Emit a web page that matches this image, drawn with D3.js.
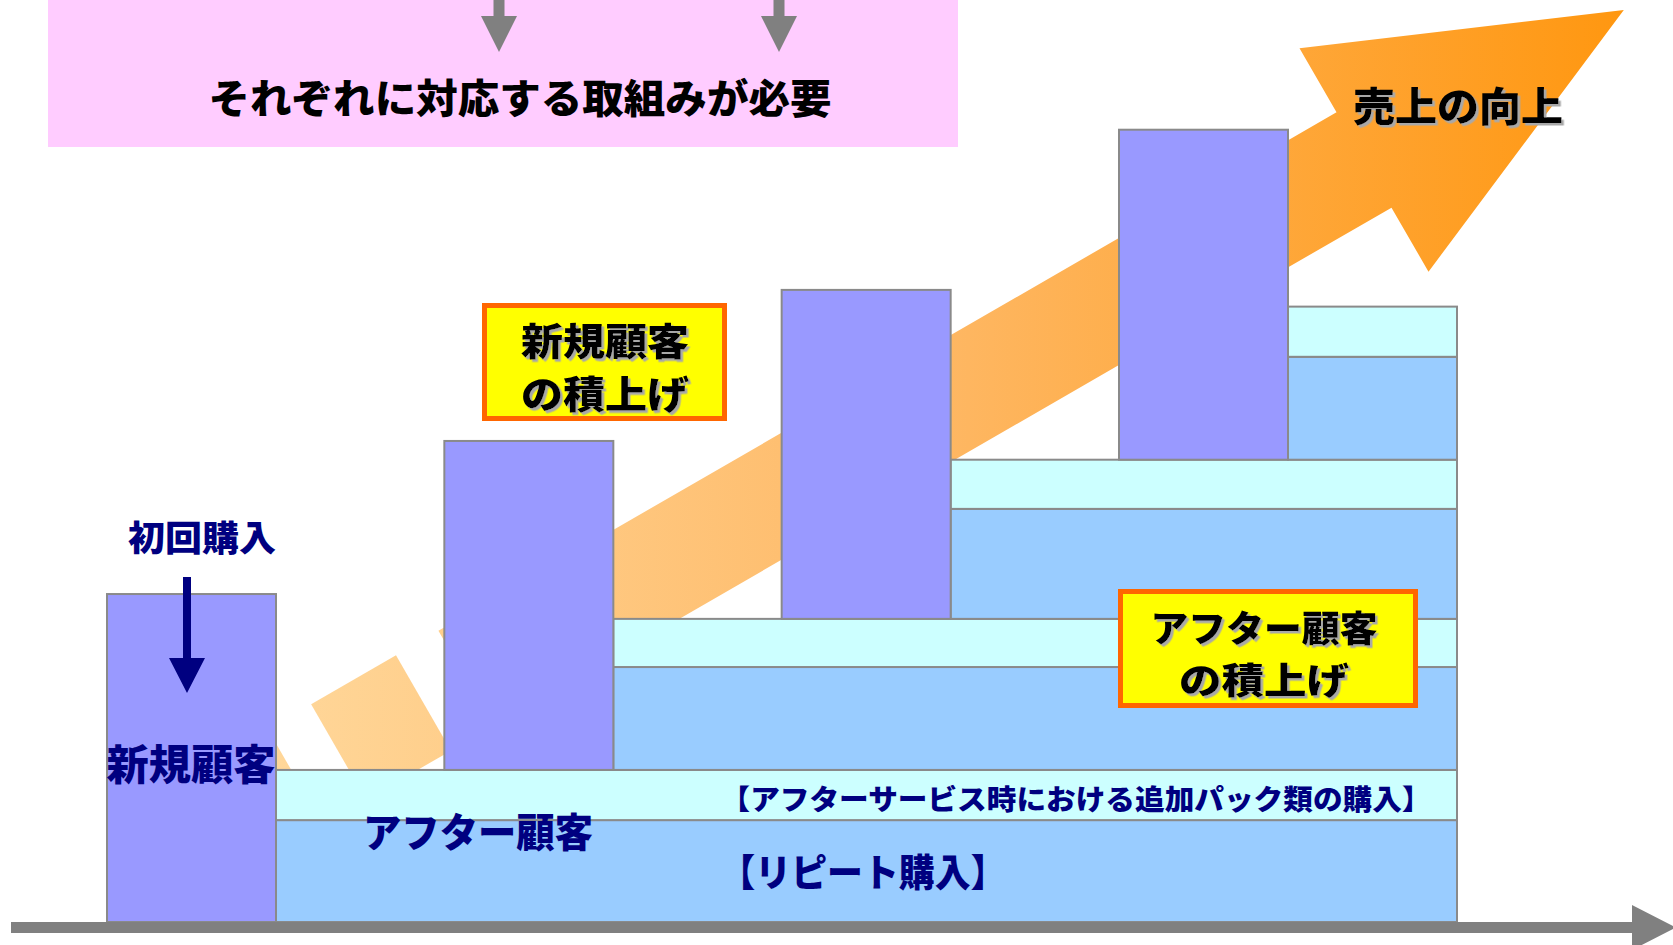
<!DOCTYPE html>
<html lang="ja">
<head>
<meta charset="utf-8">
<title>売上の向上</title>
<script src="https://cdn.jsdelivr.net/npm/d3@7"></script>
<style>
  html, body { margin: 0; padding: 0; background: #ffffff; }
  svg { display: block; }
  text { font-family: "Noto Sans CJK JP", "Noto Sans", sans-serif; font-weight: 900; }
</style>
</head>
<body>
<svg id="chart" width="1673" height="945"></svg>
<script>
// Stages of customer build-up (left to right)
const stages = ["stage1", "stage2", "stage3", "stage4"];
// Sales made by newly acquired customers at each stage
const newCustomers = [6.47, 6.49, 6.49, 6.51];
// Repeat purchases by existing (after-service) customers acquired at each stage
const repeatPurchase = [2.01, 2.03, 2.17, 2.03];
// Add-on pack purchases at after-service time, per stage
const addOnPurchase = [0.99, 0.95, 0.97, 0.99];

// Text content
const headerText = "それぞれに対応する取組みが必要";
const trendLabel = "売上の向上";
const firstPurchaseLabel = "初回購入";
const newCustomerLabel = "新規顧客";
const afterCustomerLabel = "アフター顧客";
const addOnLabel = "【アフターサービス時における追加パック類の購入】";
const repeatLabel = "【リピート購入】";
const calloutNew = ["新規顧客", "の積上げ"];
const calloutAfter = ["アフター顧客", "の積上げ"];

const svg = d3.select("#chart");

const colors = {
  newBar: "#9999FF",
  repeat: "#99CCFF",
  addOn: "#CCFFFF",
  outline: "#8A8A8A",
  navy: "#000080",
  pink: "#FFCCFF",
  axis: "#808080",
  calloutFill: "#FFFF00",
  calloutStroke: "#FF6600"
};

// Scales
const x = d3.scaleBand().domain(stages).range([107, 1288]).paddingInner(0.499).paddingOuter(0);
const y = d3.scaleLinear().domain([0, 16]).range([922, 922 - 16 * 50.69]);
const layerEnd = x.range()[1] + x.bandwidth();

// Cumulative base of each layer (stacked repeat + add-on per stage)
const layerBase = [];
let acc = 0;
stages.forEach((s, i) => {
  layerBase.push(acc);
  acc += repeatPurchase[i] + addOnPurchase[i];
});

const layers = stages.map((s, i) => ({
  stage: s,
  base: layerBase[i],
  repeat: repeatPurchase[i],
  addOn: addOnPurchase[i],
  newCust: newCustomers[i]
}));

const defs = svg.append("defs");
// soft grey drop shadow used under the black headings
const shadow = defs.append("filter").attr("id", "textShadow")
  .attr("x", "-10%").attr("y", "-20%").attr("width", "130%").attr("height", "150%");
shadow.append("feDropShadow")
  .attr("dx", 2.5).attr("dy", 2.5).attr("stdDeviation", 0)
  .attr("flood-color", "#A8A8A8").attr("flood-opacity", 1);

// ---------- Header band ----------
svg.append("rect")
  .attr("x", 48).attr("y", 0).attr("width", 910).attr("height", 147)
  .attr("fill", colors.pink);

[499, 779].forEach(cx => {
  svg.append("path")
    .attr("d", `M${cx - 5.5},0 L${cx + 5.5},0 L${cx + 5.5},16 L${cx + 18},16 L${cx},52 L${cx - 18},16 L${cx - 5.5},16 Z`)
    .attr("fill", colors.axis);
});

svg.append("text")
  .attr("x", 520).attr("y", 96)
  .attr("text-anchor", "middle").attr("dominant-baseline", "central")
  .attr("font-size", 40)
  .attr("textLength", 623).attr("lengthAdjust", "spacingAndGlyphs")
  .attr("fill", "#000")
  .text(headerText);

// ---------- Rising trend arrow (striped tail) ----------
const grad = defs.append("linearGradient")
  .attr("id", "trendGrad")
  .attr("gradientUnits", "userSpaceOnUse")
  .attr("x1", 230).attr("y1", 0).attr("x2", 1624).attr("y2", 0);
grad.append("stop").attr("offset", 0).attr("stop-color", "#FFD99D");
grad.append("stop").attr("offset", 0.5).attr("stop-color", "#FEB865");
grad.append("stop").attr("offset", 1).attr("stop-color", "#FF9710");

const origin = [1364, 160];
const ang = -30 * Math.PI / 180;
const toPage = ([u, v]) => [
  origin[0] + u * Math.cos(ang) - v * Math.sin(ang),
  origin[1] + u * Math.sin(ang) + v * Math.cos(ang)
];
const half = 55, headHalf = 129, headLen = 300;
const arrowParts = [
  [[-1283, -half], [-1234, -half], [-1234, half], [-1283, half]],
  [[-1184, -half], [-1086, -half], [-1086, half], [-1184, half]],
  [[-1037, -half], [0, -half], [0, -headHalf], [headLen, 0], [0, headHalf], [0, half], [-1037, half]]
];
const polyLine = d3.line().curve(d3.curveLinearClosed);
svg.append("g").selectAll("path")
  .data(arrowParts)
  .join("path")
  .attr("d", d => polyLine(d.map(toPage)))
  .attr("fill", "url(#trendGrad)");

// ---------- Stacked layers (after-customer purchases) ----------
const gLayers = svg.append("g");
layers.forEach(d => {
  const x0 = x(d.stage) + x.bandwidth();
  // repeat purchase
  gLayers.append("rect")
    .attr("x", x0).attr("width", layerEnd - x0)
    .attr("y", y(d.base + d.repeat)).attr("height", y(d.base) - y(d.base + d.repeat))
    .attr("fill", colors.repeat).attr("stroke", colors.outline).attr("stroke-width", 2);
  // add-on purchase
  gLayers.append("rect")
    .attr("x", x0).attr("width", layerEnd - x0)
    .attr("y", y(d.base + d.repeat + d.addOn)).attr("height", y(d.base + d.repeat) - y(d.base + d.repeat + d.addOn))
    .attr("fill", colors.addOn).attr("stroke", colors.outline).attr("stroke-width", 2);
});

// ---------- New-customer bars ----------
svg.append("g").selectAll("rect")
  .data(layers)
  .join("rect")
  .attr("x", d => x(d.stage))
  .attr("width", x.bandwidth())
  .attr("y", d => y(d.base + d.newCust))
  .attr("height", d => y(d.base) - y(d.base + d.newCust))
  .attr("fill", colors.newBar)
  .attr("stroke", colors.outline)
  .attr("stroke-width", 2);

// ---------- Horizontal time axis ----------
svg.append("path")
  .attr("d", `M11,922 L1632,922 L1632,905 L1676,927.5 L1632,950 L1632,933 L11,933 Z`)
  .attr("fill", colors.axis);

// ---------- Labels ----------
function label(txt, cx, cy, size, width, fill, withShadow) {
  const t = svg.append("text")
    .attr("x", cx).attr("y", cy)
    .attr("text-anchor", "middle").attr("dominant-baseline", "central")
    .attr("font-size", size)
    .attr("textLength", width).attr("lengthAdjust", "spacingAndGlyphs")
    .attr("fill", fill)
    .text(txt);
  if (withShadow) t.attr("filter", "url(#textShadow)");
}

label(trendLabel, 1458, 104, 40, 210, "#000", true);

// first purchase marker
label(firstPurchaseLabel, 202, 535, 35, 148, colors.navy, false);
svg.append("path")
  .attr("d", "M183,577 L191,577 L191,658 L205,658 L187,693 L169,658 L183,658 Z")
  .attr("fill", colors.navy);

label(newCustomerLabel, 191, 761, 42, 169, colors.navy, false);
label(afterCustomerLabel, 478, 830, 40, 230, colors.navy, false);
label(addOnLabel, 1076, 798, 28, 711, colors.navy, false);
label(repeatLabel, 863, 869, 38, 287, colors.navy, false);

// ---------- Callout boxes ----------
function callout(x0, y0, w, h, lines, widths, cx, ys, size) {
  svg.append("rect")
    .attr("x", x0).attr("y", y0).attr("width", w).attr("height", h)
    .attr("fill", colors.calloutFill)
    .attr("stroke", colors.calloutStroke).attr("stroke-width", 5);
  lines.forEach((t, i) => label(t, cx, ys[i], size, widths[i], "#000", true));
}
callout(484.5, 305.5, 240, 113, calloutNew, [168, 168], 605, [338, 391], 38);
callout(1120.5, 591.5, 295, 114, calloutAfter, [227, 170], 1264, [626, 678], 36);
</script>
</body>
</html>
